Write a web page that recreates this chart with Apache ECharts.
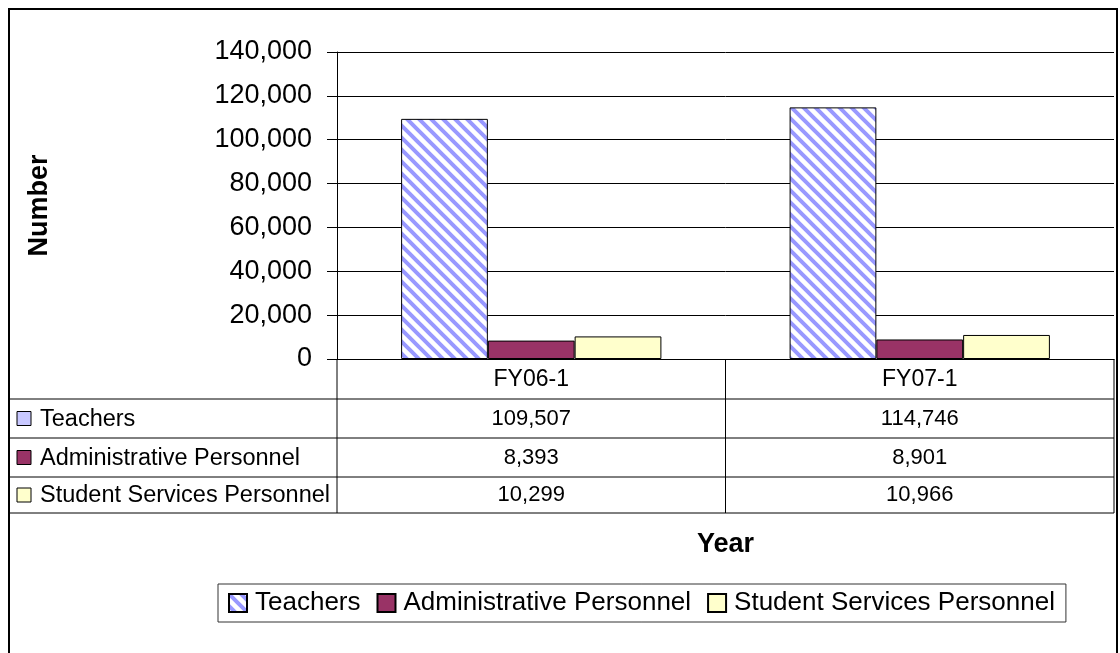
<!DOCTYPE html>
<html>
<head>
<meta charset="utf-8">
<script src="https://cdn.jsdelivr.net/npm/echarts@6/dist/echarts.min.js"></script>
<style>
  html, body { margin: 0; padding: 0; background: #fff; }
  #chart { width: 1120px; height: 653px; }
</style>
</head>
<body>
<div id="chart"></div>
<script>
// Staff counts by fiscal year
const categories = ['FY06-1', 'FY07-1'];
const seriesNames = ['Teachers', 'Administrative Personnel', 'Student Services Personnel'];
const teachers = [109507, 114746];
const administrative = [8393, 8901];
const studentServices = [10299, 10966];
const yMin = 0;
const yMax = 140000;
const yStep = 20000;

const FONT = '"Liberation Sans", Arial, sans-serif';
const fmt = v => Number(v).toLocaleString('en-US');

// Diagonal hatch used for the Teachers bars
function makeHatch() {
  const s = 12;
  const c = document.createElement('canvas');
  c.width = s; c.height = s;
  const g = c.getContext('2d');
  g.fillStyle = '#ffffff';
  g.fillRect(0, 0, s, s);
  g.strokeStyle = '#9999ff';
  g.lineWidth = 4;
  g.beginPath();
  g.moveTo(-s, -s); g.lineTo(2 * s, 2 * s);
  g.moveTo(-s, 0); g.lineTo(s, 2 * s);
  g.moveTo(0, -s); g.lineTo(2 * s, s);
  g.stroke();
  return { image: c, repeat: 'repeat' };
}
const hatch = makeHatch();
const seriesColors = [hatch, '#993366', '#ffffcc'];
const seriesData = [teachers, administrative, studentServices];

const chart = echarts.init(document.getElementById('chart'), null, { renderer: 'canvas' });

const option = {
  animation: false,
  backgroundColor: '#ffffff',
  textStyle: { fontFamily: FONT, color: '#000' },
  grid: { left: 337, right: 6, top: 52, bottom: 294, containLabel: false },
  xAxis: {
    type: 'category',
    data: categories,
    name: 'Year',
    nameLocation: 'middle',
    nameGap: 172,
    nameTextStyle: { fontFamily: FONT, fontSize: 27, fontWeight: 'bold', color: '#000' },
    axisLine: { lineStyle: { color: '#000', width: 1 } },
    axisTick: { show: false },
    axisLabel: { fontFamily: FONT, fontSize: 23, color: '#000', margin: 9 },
    splitLine: { show: false }
  },
  yAxis: {
    type: 'value',
    min: yMin,
    max: yMax,
    interval: yStep,
    name: 'Number',
    nameLocation: 'middle',
    nameRotate: 90,
    nameGap: 284,
    nameTextStyle: { fontFamily: FONT, fontSize: 27, fontWeight: 'bold', color: '#000' },
    axisLine: { show: true, lineStyle: { color: '#000', width: 1 } },
    axisTick: { show: true, inside: false, length: 10, lineStyle: { color: '#000' } },
    axisLabel: { fontFamily: FONT, fontSize: 27, color: '#000', margin: 25, formatter: v => fmt(v) },
    splitLine: { show: true, lineStyle: { color: '#000', width: 1 } }
  },
  legend: {
    left: 218,
    top: 584,
    orient: 'horizontal',
    data: seriesNames.map(n => ({ name: n, icon: 'rect' })),
    itemWidth: 18,
    itemHeight: 18,
    itemGap: 16,
    padding: [6, 11, 6, 10],
    borderColor: '#333',
    borderWidth: 1,
    textStyle: { fontFamily: FONT, fontSize: 26, color: '#000', padding: [0, 0, 0, 3] },
    selectedMode: false
  },
  series: seriesNames.map((name, i) => ({
    name: name,
    type: 'bar',
    data: seriesData[i],
    barGap: '0%',
    barCategoryGap: '33%',
    itemStyle: { color: seriesColors[i], borderColor: '#000', borderWidth: 1 }
  }))
};

chart.setOption(option);

// Data table under the plot, aligned with the category axis
const centers = categories.map(c => chart.convertToPixel({ xAxisIndex: 0 }, c));
const band = centers[1] - centers[0];
const y0 = chart.convertToPixel({ yAxisIndex: 0 }, 0);
const plotLeft = centers[0] - band / 2;
const plotRight = centers[centers.length - 1] + band / 2;
const tableLeft = 10;
const rowEdges = [y0, y0 + 40, y0 + 79, y0 + 118, y0 + 154];

const graphics = [];
const line = (x1, y1, x2, y2, color) => graphics.push({
  type: 'line', silent: true,
  shape: { x1, y1, x2, y2 },
  style: { stroke: color || '#000', lineWidth: 1 }
});

// outer chart border
graphics.push({
  type: 'rect', silent: true,
  shape: { x: 9, y: 9, width: 1108, height: 660 },
  style: { fill: null, stroke: '#000', lineWidth: 2 }
});

// table rules
for (let r = 1; r < rowEdges.length; r++) line(tableLeft, rowEdges[r], plotRight, rowEdges[r]);
line(plotLeft, y0, plotLeft, rowEdges[rowEdges.length - 1]);
for (let k = 1; k <= categories.length; k++) {
  const bx = plotLeft + band * k;
  line(bx, y0, bx, rowEdges[rowEdges.length - 1]);
}

// series rows: key swatch, name and values
seriesNames.forEach((name, i) => {
  const mid = (rowEdges[i + 1] + rowEdges[i + 2]) / 2;
  graphics.push({
    type: 'rect', silent: true,
    shape: { x: 17, y: mid - 7, width: 14, height: 14 },
    style: { fill: i === 0 ? '#c8c8ff' : seriesColors[i], stroke: '#000', lineWidth: 1 }
  });
  graphics.push({
    type: 'text', silent: true,
    x: 40, y: mid + 1,
    style: { text: name, font: '23.5px ' + FONT, fill: '#000', align: 'left', verticalAlign: 'middle' }
  });
  seriesData[i].forEach((v, j) => {
    graphics.push({
      type: 'text', silent: true,
      x: centers[j], y: mid,
      style: { text: fmt(v), font: '22px ' + FONT, fill: '#000', align: 'center', verticalAlign: 'middle' }
    });
  });
});

chart.setOption({ graphic: graphics });
</script>
</body>
</html>
